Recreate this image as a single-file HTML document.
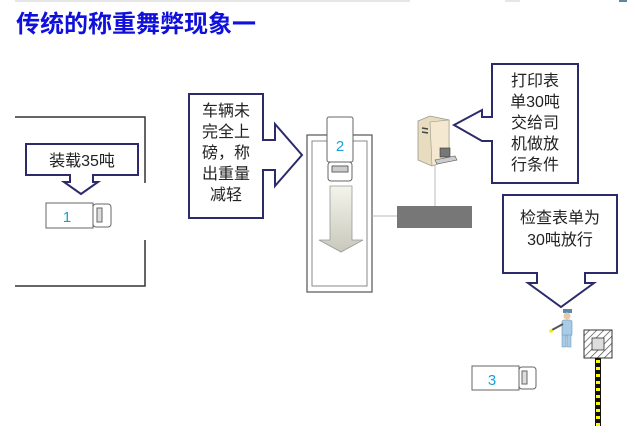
<!DOCTYPE html>
<html><head><meta charset="utf-8"><style>
html,body{margin:0;padding:0;background:#fff;width:635px;height:433px;overflow:hidden}
text{font-family:"Liberation Sans","Noto Sans CJK SC",sans-serif}
</style></head><body>
<svg width="635" height="433" viewBox="0 0 635 433" xmlns="http://www.w3.org/2000/svg">
<defs>
<pattern id="hatch" width="5" height="5" patternUnits="userSpaceOnUse" patternTransform="rotate(45)">
<rect width="5" height="5" fill="#fff"/><line x1="0" y1="0" x2="0" y2="5" stroke="#555" stroke-width="1.5"/></pattern>
<linearGradient id="ga" x1="0" y1="0" x2="0" y2="1"><stop offset="0" stop-color="#f4f4ec"/><stop offset="1" stop-color="#c8c8bc"/></linearGradient>
</defs>
<line x1="15" y1="1" x2="410" y2="1" stroke="#ddd" stroke-width="1.5"/>
<line x1="505" y1="1" x2="520" y2="1" stroke="#ddd" stroke-width="1.5"/>
<rect x="619" y="0" width="8" height="2" fill="#5a8aa0"/>
<text x="16" y="32" font-size="24" font-weight="bold" fill="#1010dc" textLength="240" lengthAdjust="spacingAndGlyphs" style="font-family:'Noto Sans CJK SC',sans-serif">传统的称重舞弊现象一</text>

<!-- left frame -->
<path d="M15 117 H145 V183" fill="none" stroke="#333" stroke-width="1.5"/>
<path d="M145 240 V286 H15" fill="none" stroke="#333" stroke-width="1.5"/>

<!-- callout 1 -->
<path d="M26 144 H138 V175 H93 V182 H98 L81 194 L64 182 H70 V175 H26 Z" fill="#fff" stroke="#2b2b6b" stroke-width="2"/>
<text x="82" y="166" font-size="16" text-anchor="middle" fill="#222">装载35吨</text>

<!-- truck 1 -->
<g stroke="#666" fill="#fff" stroke-width="1">
<rect x="46" y="203" width="47" height="25"/><rect x="93" y="204" width="18" height="23" rx="3"/>
<rect x="97" y="208" width="5" height="14" fill="#ddd"/>
</g>
<text x="67" y="222" font-size="15" text-anchor="middle" fill="#1aa0d8">1</text>

<!-- callout 2 -->
<path d="M189 94 H263 V140 H275 V124 L302 155 L275 186 V170 H263 V218 H189 Z" fill="#fff" stroke="#2b2b6b" stroke-width="2"/>
<g font-size="16" text-anchor="middle" fill="#222">
<text x="226" y="116">车辆未</text><text x="226" y="137">完全上</text><text x="226" y="158">磅，称</text><text x="226" y="179">出重量</text><text x="226" y="200">减轻</text>
</g>

<!-- scale pit -->
<rect x="307" y="135" width="65" height="157" fill="#fff" stroke="#555" stroke-width="1.2"/>
<rect x="312" y="141" width="55" height="145" fill="#fff" stroke="#888" stroke-width="1"/>
<path d="M330 186 H352 V240 H363 L341 252 L319 240 H330 Z" fill="url(#ga)" stroke="#999" stroke-width="0.8"/>
<g stroke="#666" fill="#fff" stroke-width="1">
<rect x="327" y="117" width="26" height="45" rx="2"/><rect x="328" y="162" width="24" height="19" rx="3"/>
<rect x="332" y="166" width="16" height="6" fill="#ccc"/>
</g>
<text x="340" y="151" font-size="15" text-anchor="middle" fill="#1aa0d8">2</text>

<!-- network -->
<line x1="435" y1="165" x2="435" y2="207" stroke="#bbb" stroke-width="1"/>
<line x1="372" y1="216" x2="397" y2="216" stroke="#bbb" stroke-width="1"/>
<rect x="397" y="206" width="75" height="22" fill="#777"/>
<!-- computer -->
<g>
<path d="M418 121 L430 116 L449 120 L449 160 L432 166 L418 160 Z" fill="#e8dcc0" stroke="#998" stroke-width="0.8"/>
<path d="M430 122 L449 120 L449 160 L432 166 Z" fill="#f4e8d0" stroke="#998" stroke-width="0.6"/>
<line x1="422" y1="128" x2="428" y2="129" stroke="#444" stroke-width="1.5"/>
<line x1="422" y1="132" x2="428" y2="133" stroke="#444" stroke-width="1.5"/>
<rect x="440" y="148" width="10" height="9" fill="#777" stroke="#333" stroke-width="0.6"/>
<path d="M435 160 L455 156 L457 160 L437 164 Z" fill="#ccc" stroke="#555" stroke-width="0.6"/>
</g>

<!-- callout 3 -->
<path d="M492 64 H578 V183 H492 V141 H482 V141 L454 125 L482 110 V117 H492 Z" fill="#fff" stroke="#2b2b6b" stroke-width="2"/>
<g font-size="16" text-anchor="middle" fill="#222">
<text x="535" y="86">打印表</text><text x="535" y="107">单30吨</text><text x="535" y="128">交给司</text><text x="535" y="149">机做放</text><text x="535" y="170">行条件</text>
</g>

<!-- callout 4 -->
<path d="M503 195 H617 V273 H585 V283 H594 L561 307 L528 283 H537 V273 H503 Z" fill="#fff" stroke="#2b2b6b" stroke-width="2"/>
<g font-size="16" text-anchor="middle" fill="#222">
<text x="560" y="223">检查表单为</text><text x="560" y="245">30吨放行</text>
</g>

<!-- policeman -->
<g>
<rect x="563" y="309" width="9" height="4" fill="#5a8ab0"/>
<circle cx="567" cy="316" r="3.5" fill="#e8c8a8"/>
<rect x="562" y="320" width="10" height="16" rx="2" fill="#a8cce8" stroke="#6a90b0" stroke-width="0.6"/>
<rect x="562" y="335" width="4" height="12" fill="#a8cce8" stroke="#6a90b0" stroke-width="0.5"/>
<rect x="567" y="335" width="4" height="12" fill="#a8cce8" stroke="#6a90b0" stroke-width="0.5"/>
<line x1="563" y1="324" x2="552" y2="330" stroke="#555" stroke-width="2"/>
<circle cx="551" cy="331" r="1.8" fill="#ee0"/>
</g>

<!-- gate -->
<rect x="584" y="330" width="28" height="28" fill="url(#hatch)" stroke="#333" stroke-width="1"/>
<rect x="592" y="338" width="12" height="12" fill="#ddd" stroke="#333" stroke-width="0.8"/>
<rect x="595" y="358" width="6" height="68" fill="#111"/>
<line x1="598" y1="360" x2="598" y2="426" stroke="#ff0" stroke-width="4" stroke-dasharray="3,4"/>

<!-- truck 3 -->
<g stroke="#666" fill="#fff" stroke-width="1">
<rect x="472" y="366" width="47" height="24"/><rect x="519" y="367" width="17" height="22" rx="3"/>
<rect x="522" y="371" width="5" height="13" fill="#ddd"/>
</g>
<text x="492" y="385" font-size="15" text-anchor="middle" fill="#1aa0d8">3</text>
</svg>
</body></html>
